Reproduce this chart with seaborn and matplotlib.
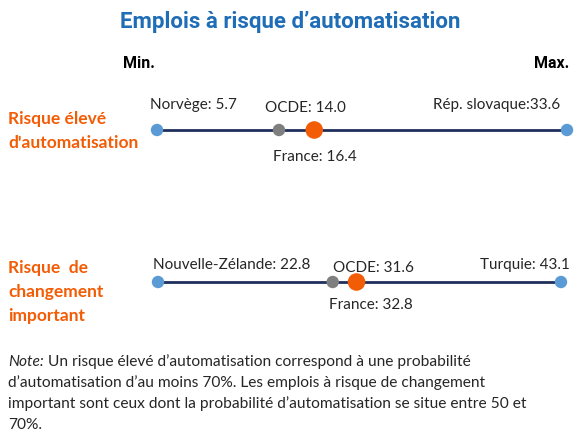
import numpy as np
import pandas as pd
import seaborn as sns
import matplotlib
import matplotlib.pyplot as plt

sns.set_theme(style="white")
plt.rcParams['font.family'] = ['Lato', 'DejaVu Sans']

# values
row_labels = ["Risque élevé\nd'automatisation", "Risque  de\nchangement\nimportant"]
min_names = ["Norvège", "Nouvelle-Zélande"]
min_vals = [5.7, 22.8]
max_names = ["Rép. slovaque", "Turquie"]
max_vals = [33.6, 43.1]
max_seps = [":", ": "]
oecd_vals = [14.0, 31.6]
france_vals = [16.4, 32.8]

W, H = 582, 443
fig = plt.figure(figsize=(W / 100, H / 100), dpi=100)

blue = '#5B9BD5'
grey = '#7F7F7F'
orange = '#F25C05'
navy = '#1F2F5C'

# layout in pixels (left, right, line y from top)
rows_px = [(157, 567, 130), (158, 561, 282)]
# label offsets in pixels (dx, dy)
offs = [
    {'min': (-7, 25), 'oecd': (-14, 22), 'max': (-7, 25), 'fr': (-41, -27)},
    {'min': (-5, 17), 'oecd': (0, 14), 'max': (9, 17), 'fr': (-28, -23)},
]
row_label_y = [131, 292]

fs = 11
for i in range(2):
    x0, x1, yl = rows_px[i]
    ax = fig.add_axes([x0 / W, 1 - (yl + 10) / H, (x1 - x0) / W, 20 / H])
    ax.set_xlim(min_vals[i], max_vals[i])
    ax.set_ylim(-1, 1)
    ax.axis('off')

    line_df = pd.DataFrame({'x': [min_vals[i], max_vals[i]], 'y': [0, 0]})
    sns.lineplot(data=line_df, x='x', y='y', ax=ax, color=navy, linewidth=2, zorder=1)
    pts = pd.DataFrame({'x': [min_vals[i], max_vals[i], oecd_vals[i], france_vals[i]],
                        'y': [0, 0, 0, 0],
                        'kind': ['ext', 'ext', 'oecd', 'fr']})
    for kind, col, s in [('ext', blue, 80), ('oecd', grey, 80), ('fr', orange, 160)]:
        sub = pts[pts['kind'] == kind]
        sns.scatterplot(data=sub, x='x', y='y', ax=ax, color=col, s=s,
                        edgecolor='none', zorder=3, clip_on=False)

    o = offs[i]
    ax.annotate(f"{min_names[i]}: {min_vals[i]}", (min_vals[i], 0), xytext=o['min'],
                textcoords='offset pixels', ha='left', va='center', fontsize=fs)
    ax.annotate(f"OCDE: {oecd_vals[i]:.1f}", (oecd_vals[i], 0), xytext=o['oecd'],
                textcoords='offset pixels', ha='left', va='center', fontsize=fs)
    ax.annotate(f"{max_names[i]}{max_seps[i]}{max_vals[i]}", (max_vals[i], 0), xytext=o['max'],
                textcoords='offset pixels', ha='right', va='center', fontsize=fs)
    ax.annotate(f"France: {france_vals[i]}", (france_vals[i], 0), xytext=o['fr'],
                textcoords='offset pixels', ha='left', va='center', fontsize=fs)

    fig.text(8 / W, 1 - row_label_y[i] / H, row_labels[i], ha='left', va='center',
             fontsize=12.5, fontweight='bold', color=orange, linespacing=1.6)

bold_font = ['Roboto', 'DejaVu Sans']
fig.text(290 / W, 1 - 22 / H, "Emplois à risque d’automatisation", ha='center', va='center',
         fontsize=16, fontweight='bold', color='#1F6DB6', family=bold_font)
fig.text(139 / W, 1 - 63 / H, "Min.", ha='center', va='center', fontsize=11.5,
         fontweight='bold', color='black', family=bold_font)
fig.text(552 / W, 1 - 63 / H, "Max.", ha='center', va='center', fontsize=11.5,
         fontweight='bold', color='black', family=bold_font)

note_lines = [
    "Un risque élevé d’automatisation correspond à une probabilité",
    "d’automatisation d’au moins 70%. Les emplois à risque de changement",
    "important sont ceux dont la probabilité d’automatisation se situe entre 50 et",
    "70%.",
]
nfs = 11.2
renderer = fig.canvas.get_renderer()
lead = fig.text(8 / W, 1 - 362 / H, "Note:", ha='left', va='center', fontsize=nfs,
                fontstyle='italic')
lead_w = lead.get_window_extent(renderer).width
for k, ln in enumerate(note_lines):
    x = 8 + (lead_w + 4 if k == 0 else 0)
    fig.text(x / W, 1 - (362 + 21 * k) / H, ln, ha='left', va='center', fontsize=nfs)

fig.savefig('out.png', dpi=100)
